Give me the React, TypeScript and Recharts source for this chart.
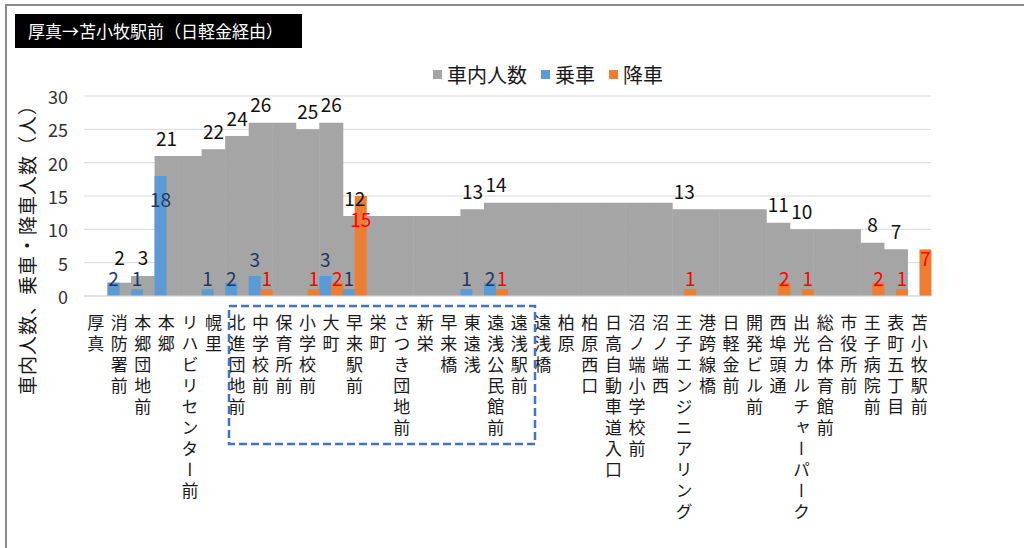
import { BarChart, Bar, XAxis, YAxis, CartesianGrid, LabelList } from "recharts";

const FONT = '"Noto Sans CJK JP", "Noto Sans", sans-serif';

const stops = [
  "厚真", "消防署前", "本郷団地前", "本郷", "リハビリセンター前", "幌里",
  "北進団地前", "中学校前", "保育所前", "小学校前", "大町", "早来駅前",
  "栄町", "さつき団地前", "新栄", "早来橋", "東遠浅", "遠浅公民館前",
  "遠浅駅前", "遠浅橋", "柏原", "柏原西口", "日高自動車道入口", "沼ノ端小学校前",
  "沼ノ端西", "王子エンジニアリング", "港跨線橋", "日軽金前", "開発ビル前", "西埠頭通",
  "出光カルチャーパーク", "総合体育館前", "市役所前", "王子病院前", "表町五丁目", "苫小牧駅前",
];

// 車内人数 (after each stop)
const onboard = [
  0, 2, 3, 21, 21, 22, 24, 26, 26, 25, 26, 12,
  12, 12, 12, 12, 13, 14, 14, 14, 14, 14, 14, 14,
  14, 13, 13, 13, 13, 11, 10, 10, 10, 8, 7, 0,
];

// 乗車
const boarding = [
  0, 2, 1, 18, 0, 1, 2, 3, 0, 0, 3, 1,
  0, 0, 0, 0, 1, 2, 0, 0, 0, 0, 0, 0,
  0, 0, 0, 0, 0, 0, 0, 0, 0, 0, 0, 0,
];

// 降車
const alighting = [
  0, 0, 0, 0, 0, 0, 0, 1, 0, 1, 2, 15,
  0, 0, 0, 0, 0, 1, 0, 0, 0, 0, 0, 0,
  0, 1, 0, 0, 0, 2, 1, 0, 0, 2, 1, 7,
];

const yTicks = [0, 5, 10, 15, 20, 25, 30];

const rows = stops.map((stop, i) => ({
  stop,
  onboard: onboard[i],
  // only label the occupancy where it changes
  onboardLabel: onboard[i] !== 0 && onboard[i] !== (i > 0 ? onboard[i - 1] : 0) ? onboard[i] : null,
  boarding: boarding[i],
  alighting: alighting[i],
}));

function StopTick(props: any) {
  const { x, y, payload } = props;
  return (
    <text
      x={x}
      y={y + 16}
      fill="#1a1a1a"
      fontSize={17}
      fontFamily={FONT}
      style={{ writingMode: "vertical-rl", letterSpacing: "4px" }}
    >
      {payload.value}
    </text>
  );
}

function CountTick(props: any) {
  const { y, payload } = props;
  return (
    <text x={68} y={y} textAnchor="end" dominantBaseline="central"
      fontSize={18} fontFamily={FONT} fill="#333">
      {payload.value}
    </text>
  );
}

function grayLabel(props: any) {
  const { x, y, width, height, value } = props;
  if (value == null) return null;
  const base = y + height;
  const cy = Math.min(y - 19, base - 40);
  return (
    <text x={x + width / 2} y={cy} textAnchor="middle" dominantBaseline="central"
      fontSize={19} fontFamily={FONT} fill="#111">
      {value}
    </text>
  );
}

function countLabel(color: string) {
  return (props: any) => {
    const { x, y, width, height, value } = props;
    if (!value) return null;
    const base = y + height;
    let cy = y - 18;
    if (value >= 10) cy = y + 22;
    else if (value >= 5) cy = y + 8;
    else if (value <= 2) cy = base - 19;
    return (
      <text x={x + width / 2} y={cy} textAnchor="middle" dominantBaseline="central"
        fontSize={19} fontFamily={FONT} fill={color}>
        {value}
      </text>
    );
  };
}

const legendItems = [
  { name: "車内人数", color: "#a5a5a5" },
  { name: "乗車", color: "#5b9bd5" },
  { name: "降車", color: "#ed7d31" },
];

export default function App() {
  return (
    <div style={{ position: "absolute", left: 0, top: 0, width: 1024, height: 548, overflow: "hidden", background: "#fff" }}>
      <div style={{ position: "absolute", left: 5, top: 4, width: 1060, height: 600, border: "2px solid #8c8c8c" }} />

      <div style={{
        position: "absolute", left: 15, top: 14, width: 287, height: 34, background: "#000",
        color: "#fff", fontFamily: FONT, fontSize: 17, lineHeight: "34px", paddingLeft: 13, boxSizing: "border-box",
      }}>
        厚真→苫小牧駅前（日軽金経由）
      </div>

      {/* legend */}
      <div style={{ position: "absolute", left: 433, top: 60, display: "flex", alignItems: "center", fontFamily: FONT, fontSize: 20, color: "#1a1a1a" }}>
        {legendItems.map((it) => (
          <div key={it.name} style={{ display: "flex", alignItems: "center", marginRight: 14 }}>
            <span style={{ width: 9, height: 9, background: it.color, marginRight: 5, display: "inline-block" }} />
            <span>{it.name}</span>
          </div>
        ))}
      </div>

      <div style={{ position: "absolute", left: 0, top: 0 }}>
        <BarChart
          width={1024}
          height={548}
          data={rows}
          margin={{ top: 96, right: 93, bottom: 12, left: 24 }}
          barCategoryGap={0}
          barGap={0}
        >
          <CartesianGrid vertical={false} stroke="#d9d9d9" xAxisId="half" />
          <XAxis
            xAxisId="half"
            dataKey="stop"
            height={240}
            interval={0}
            tick={<StopTick />}
            tickLine={false}
            tickSize={0}
            axisLine={{ stroke: "#d9d9d9" }}
          />
          <XAxis xAxisId="full" dataKey="stop" hide height={0} />
          <YAxis
            domain={[0, 30]}
            ticks={yTicks}
            width={60}
            axisLine={false}
            tickLine={false}
            tick={<CountTick />}
          />
          <Bar xAxisId="full" dataKey="onboard" fill="#a5a5a5" isAnimationActive={false}>
            <LabelList dataKey="onboardLabel" content={grayLabel} />
          </Bar>
          <Bar xAxisId="half" dataKey="boarding" fill="#5b9bd5" isAnimationActive={false}>
            <LabelList dataKey="boarding" content={countLabel("#203864")} />
          </Bar>
          <Bar xAxisId="half" dataKey="alighting" fill="#ed7d31" isAnimationActive={false}>
            <LabelList dataKey="alighting" content={countLabel("#ff0000")} />
          </Bar>
        </BarChart>
      </div>

      <svg width={1024} height={548} style={{ position: "absolute", left: 0, top: 0, pointerEvents: "none" }}>
        <text
          transform="translate(26,245) rotate(-90)"
          textAnchor="middle"
          dominantBaseline="central"
          fontSize={19}
          fontFamily={FONT}
          fill="#1a1a1a"
          letterSpacing="1px"
        >
          車内人数、乗車・降車人数（人）
        </text>
        <rect x={229} y={306} width={306} height={138} fill="none" stroke="#4472c4" strokeWidth={2.5} strokeDasharray="8 4" />
      </svg>
    </div>
  );
}
